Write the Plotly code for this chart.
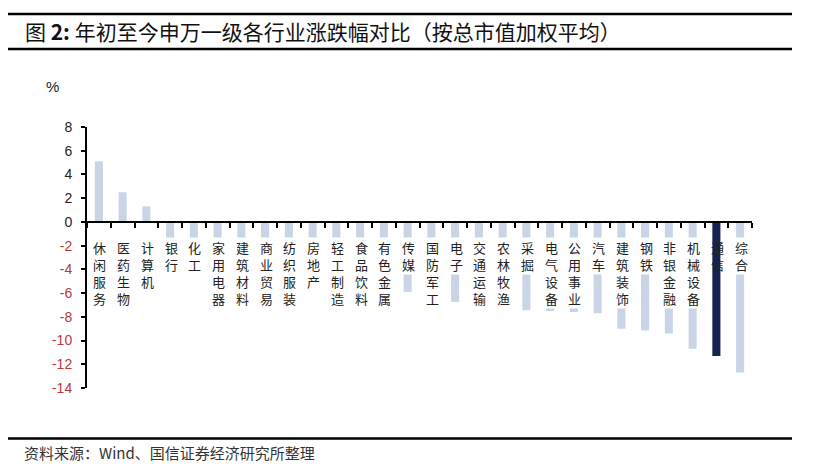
import plotly.graph_objects as go

categories = ["休闲服务", "医药生物", "计算机", "银行", "化工", "家用电器", "建筑材料",
              "商业贸易", "纺织服装", "房地产", "轻工制造", "食品饮料", "有色金属", "传媒",
              "国防军工", "电子", "交通运输", "农林牧渔", "采掘", "电气设备", "公用事业",
              "汽车", "建筑装饰", "钢铁", "非银金融", "机械设备", "通信", "综合"]
values = [5.1, 2.5, 1.3, -1.7, -1.8, -2.0, -2.3,
          -2.6, -2.9, -3.3, -3.6, -3.9, -4.3, -5.9,
          -6.4, -6.75, -6.9, -7.1, -7.45, -7.5, -7.6,
          -7.7, -9.0, -9.15, -9.4, -10.7, -11.3, -12.7]
highlight = "通信"
y_ticks = [8, 6, 4, 2, 0, -2, -4, -6, -8, -10, -12, -14]

title_text = "图 <b>2:</b> 年初至今申万一级各行业涨跌幅对比（按总市值加权平均）"
source_text = "资料来源：Wind、国信证券经济研究所整理"
unit_text = "%"

LIGHT = "#c9d5e7"
DARK = "#14234f"
NEG_RED = "#b5393f"

colors = [DARK if c == highlight else LIGHT for c in categories]

fig = go.Figure()
fig.add_trace(go.Bar(x=categories, y=values, marker=dict(color=colors, line=dict(width=0)),
                     width=0.34, hoverinfo="x+y"))

ticktext = []
for t in y_ticks:
    if t < 0:
        ticktext.append(f"<span style='color:{NEG_RED}'>{t}</span>")
    else:
        ticktext.append(str(t))

ymin, ymax = min(y_ticks), max(y_ticks)

# vertical category labels placed just under the zero line
annotations = []
for c in categories:
    annotations.append(dict(
        x=c, y=0, xref="x", yref="y", xanchor="center", yanchor="top",
        text="<br>".join(list(c)), showarrow=False, yshift=-15, xshift=1,
        font=dict(family="Noto Sans CJK SC", size=13, color="#222222"),
        bgcolor="rgba(0,0,0,0)" if c == highlight else "white",
        borderpad=0,
    ))

# plot area in pixels: x 87..752, y 127..388
L, R, T, B = 87, 752, 127, 388
W, H = R - L, B - T
def px(p):
    return (p - L) / W
def py(p):
    return (B - p) / H

annotations.append(dict(x=px(23), y=py(31), xref="paper", yref="paper", xanchor="left",
                        yanchor="middle", text=title_text, showarrow=False,
                        font=dict(family="Noto Sans CJK SC", size=21, color="#111111")))
annotations.append(dict(x=px(44), y=py(86), xref="paper", yref="paper", xanchor="left",
                        yanchor="middle", text=unit_text, showarrow=False,
                        font=dict(family="Liberation Sans", size=15, color="#222222")))
annotations.append(dict(x=px(22), y=py(452), xref="paper", yref="paper", xanchor="left",
                        yanchor="middle", text=source_text, showarrow=False,
                        font=dict(family="Noto Sans CJK SC", size=15, color="#333333")))

shapes = []
for yy in (14, 49, 438.5):
    shapes.append(dict(type="line", xref="paper", yref="paper", x0=px(8), x1=px(792),
                       y0=py(yy), y1=py(yy), line=dict(color="black", width=2.5)))

fig.update_layout(
    width=830, height=464,
    margin=dict(l=L, r=830 - R, t=T, b=464 - B),
    paper_bgcolor="white", plot_bgcolor="white",
    showlegend=False,
    font=dict(family="Liberation Sans"),
    xaxis=dict(
        anchor="free", position=(0 - ymin) / (ymax - ymin),
        showline=True, linecolor="black", linewidth=2,
        ticks="outside", ticklen=5, tickwidth=1.5, tickcolor="black",
        tickson="boundaries", showticklabels=False, showgrid=False, zeroline=False,
    ),
    yaxis=dict(
        range=[ymin, ymax], tickvals=y_ticks, ticktext=ticktext,
        showline=True, linecolor="black", linewidth=2,
        ticks="outside", ticklen=4, tickwidth=1.5, tickcolor="black",
        tickfont=dict(family="Liberation Sans", size=14, color="#222222"),
        ticklabelstandoff=6,
        showgrid=False, zeroline=False,
    ),
    annotations=annotations, shapes=shapes,
)

fig.write_html("out.html", config={"displayModeBar": False},
               post_script="document.body.style.margin='0';document.body.style.padding='0';")
